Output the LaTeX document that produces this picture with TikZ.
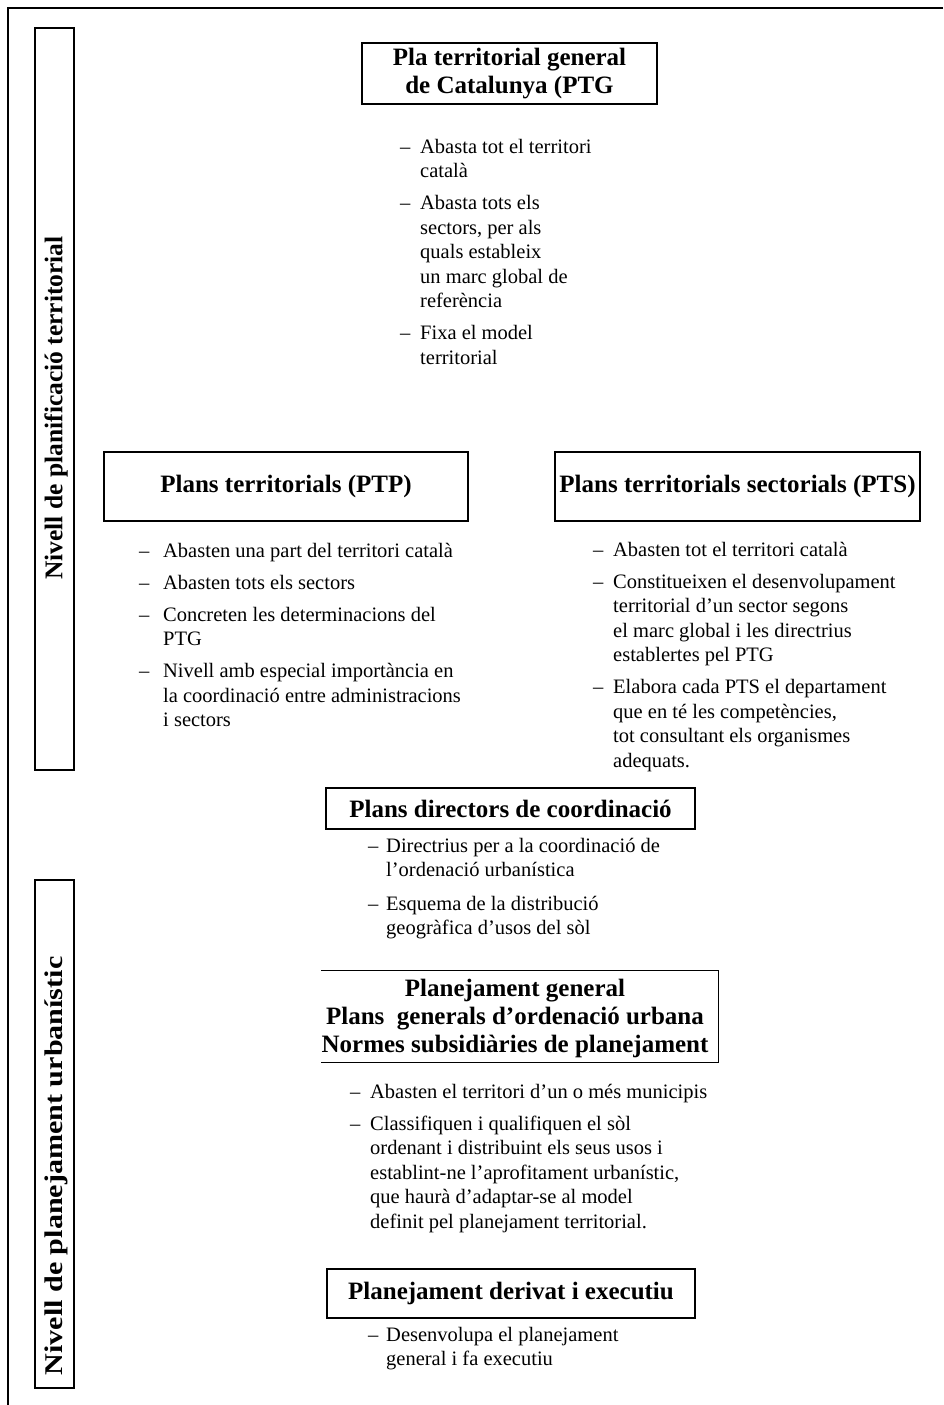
\documentclass[tikz,border=0pt]{standalone}
\usepackage{fontspec}
\setmainfont{Liberation Serif}
\newlength\dashw
\newcommand\dashitem{\makebox[\dashw][l]{–}&}
\tikzset{
  frame/.style={line width=1.8pt},
  titlebox/.style={draw, line width=1.4pt, inner sep=0pt, align=center,
    font=\fontsize{25}{28}\selectfont\bfseries},
  labelbox/.style={draw, line width=1.4pt, inner sep=0pt, minimum width=39pt},
  labeltext/.style={rotate=90, inner sep=0pt, font=\fontsize{25.5}{28}\selectfont\bfseries},
  listtext/.style={anchor=base west, inner sep=0pt, align=left,
    font=\fontsize{20.5}{24.5}\selectfont}
}
\begin{document}
\begin{tikzpicture}[x=1pt,y=-1pt]
\useasboundingbox (0,0) rectangle (943,1405);
% outer frame
\coordinate (tl) at (8,8);
\coordinate (tr) at (943,8);
\coordinate (bl) at (8,1405);
\draw[frame] (tr) -- (tl) -- (bl);

% level labels
\node[labelbox, minimum height=742pt] (lab1) at (54.5,399) {};
\node[labeltext] (lab1t) at (56,408) {Nivell de planificació territorial};
\node[labelbox, minimum height=508pt] (lab2) at (54.5,1134) {};
\node[labeltext] (lab2t) at (56,1166) {\scalebox{1.18}[1]{Nivell de planejament urbanístic}};

% PTG
\node[titlebox, minimum width=295pt, minimum height=61pt] (ptg) at (509.5,73.5)
  {Pla territorial general\\de Catalunya (PTG};
\setlength\dashw{20pt}
\node[listtext] (ptgl) at (400,153) {\begin{tabular}[t]{@{}l@{}l@{}}
\dashitem Abasta tot el territori\\ & català\\[7.5pt]
\dashitem Abasta tots els\\ & sectors, per als\\ & quals estableix\\ & un marc global de\\ & referència\\[7.5pt]
\dashitem Fixa el model\\ & territorial
\end{tabular}};

% PTP
\node[titlebox, minimum width=364pt, minimum height=69pt] (ptp) at (286,486.5)
  {Plans territorials (PTP)};
\setlength\dashw{24pt}
\node[listtext] (ptpl) at (139,557) {\begin{tabular}[t]{@{}l@{}l@{}}
\dashitem Abasten una part del territori català\\[7.5pt]
\dashitem Abasten tots els sectors\\[7.5pt]
\dashitem Concreten les determinacions del\\ & PTG\\[7.5pt]
\dashitem Nivell amb especial importància en\\ & la coordinació entre administracions\\ & i sectors
\end{tabular}};

% PTS
\node[titlebox, minimum width=365pt, minimum height=69pt] (pts) at (737.5,486.5)
  {Plans territorials sectorials (PTS)};
\setlength\dashw{20pt}
\node[listtext] (ptsl) at (593,556) {\begin{tabular}[t]{@{}l@{}l@{}}
\dashitem Abasten tot el territori català\\[7.5pt]
\dashitem Constitueixen el desenvolupament\\ & territorial d’un sector segons\\ & el marc global i les directrius\\ & establertes pel PTG\\[7.5pt]
\dashitem Elabora cada PTS el departament\\ & que en té les competències,\\ & tot consultant els organismes\\ & adequats.
\end{tabular}};

% PDC
\node[titlebox, minimum width=369pt, minimum height=41pt] (pdc) at (510.5,808.5)
  {Plans directors de coordinació};
\setlength\dashw{18pt}
\node[listtext] (pdcl) at (368,852) {\begin{tabular}[t]{@{}l@{}l@{}}
\dashitem Directrius per a la coordinació de\\ & l’ordenació urbanística\\[9pt]
\dashitem Esquema de la distribució\\ & geogràfica d’usos del sòl
\end{tabular}};

% PG (no left side)
\node[titlebox, draw=none, minimum width=396pt, minimum height=91pt] (pg) at (520,1016.5) {};
\draw[line width=1.4pt] (pg.north west) -- (pg.north east) -- (pg.south east) -- (pg.south west);
\node[titlebox, draw=none] (pgt) at (515,1018)
  {Planejament general\\Plans\ \ generals d’ordenació urbana\\Normes subsidiàries de planejament};
\setlength\dashw{20pt}
\node[listtext] (pgl) at (350,1098) {\begin{tabular}[t]{@{}l@{}l@{}}
\dashitem Abasten el territori d’un o més municipis\\[7.5pt]
\dashitem Classifiquen i qualifiquen el sòl\\ & ordenant i distribuint els seus usos i\\ & establint-ne l’aprofitament urbanístic,\\ & que haurà d’adaptar-se al model\\ & definit pel planejament territorial.
\end{tabular}};

% PDE
\node[titlebox, minimum width=368pt, minimum height=49pt] (pde) at (511,1293.5)
  {Planejament derivat i executiu};
\setlength\dashw{18pt}
\node[listtext] (pdel) at (368,1341) {\begin{tabular}[t]{@{}l@{}l@{}}
\dashitem Desenvolupa el planejament\\ & general i fa executiu
\end{tabular}};
\end{tikzpicture}
\end{document}
